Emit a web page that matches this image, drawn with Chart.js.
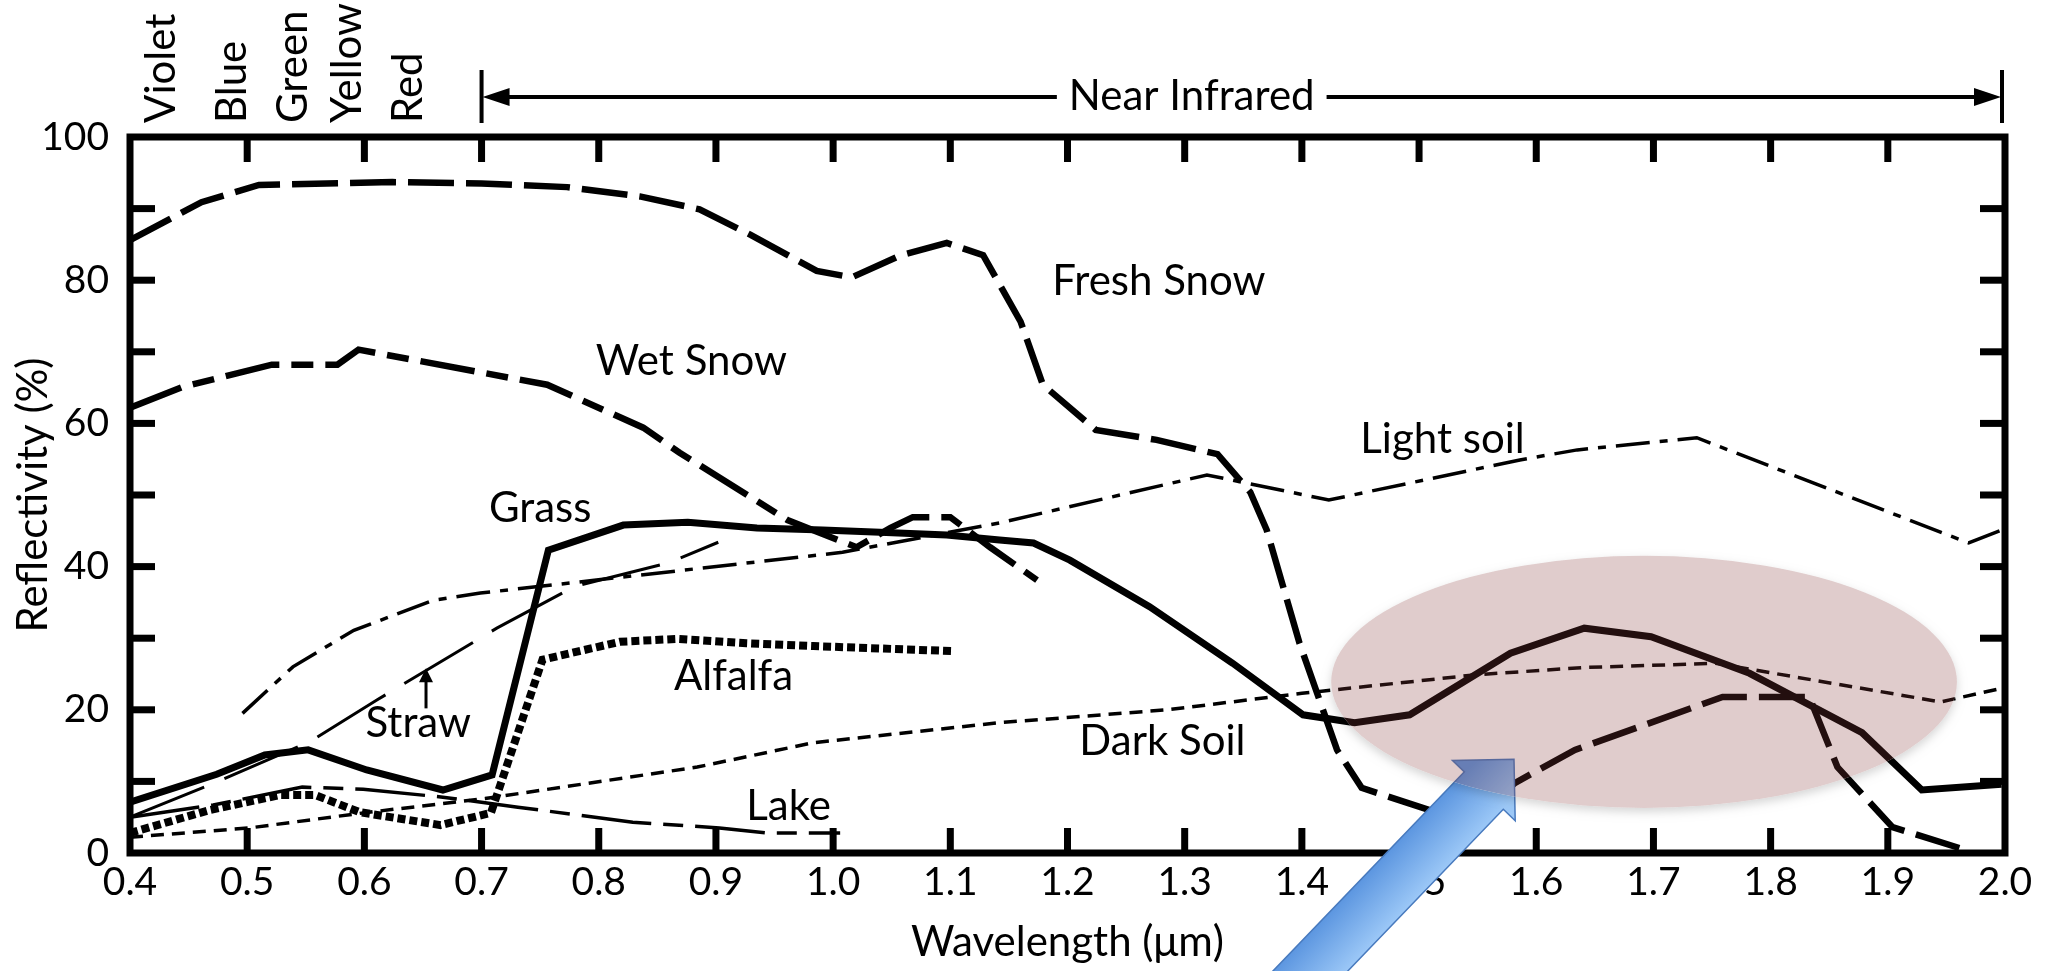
<!DOCTYPE html>
<html>
<head>
<meta charset="utf-8">
<script src="https://cdn.jsdelivr.net/npm/chart.js@4.4.0/dist/chart.umd.min.js"></script>
<style>
  html, body { margin: 0; padding: 0; background: #fff; }
  canvas { display: block; }
</style>
</head>
<body>
<canvas id="spectra" width="2049" height="971"></canvas>
<script>
// reflectivity (%) against wavelength (um)
var freshSnowX = [0.40, 0.461, 0.510, 0.624, 0.700, 0.773, 0.835, 0.886, 0.930, 0.986, 1.016, 1.058, 1.097, 1.128, 1.160, 1.179, 1.224, 1.276, 1.328, 1.356, 1.370, 1.398, 1.430, 1.451, 1.509, 1.545, 1.582, 1.633, 1.759, 1.833, 1.857, 1.904, 1.961];
var freshSnowY = [85.6, 90.9, 93.3, 93.7, 93.5, 93.0, 91.7, 89.9, 86.3, 81.3, 80.4, 83.5, 85.2, 83.5, 74.2, 65.4, 59.1, 57.7, 55.7, 50.4, 45.1, 29.3, 14.4, 9.1, 6.0, 4.5, 9.8, 14.4, 21.8, 21.8, 12.0, 3.6, 0.7];

var wetSnowX = [0.40, 0.445, 0.521, 0.577, 0.595, 0.756, 0.838, 0.869, 0.961, 0.989, 1.020, 1.049, 1.068, 1.100, 1.134, 1.174];
var wetSnowY = [62.2, 65.1, 68.2, 68.2, 70.3, 65.4, 59.4, 55.9, 46.5, 44.7, 42.7, 45.4, 46.9, 46.9, 42.7, 38.1];

var grassX = [0.40, 0.474, 0.515, 0.552, 0.602, 0.667, 0.709, 0.757, 0.821, 0.876, 0.935, 0.991, 1.040, 1.097, 1.142, 1.171, 1.202, 1.270, 1.341, 1.401, 1.445, 1.492, 1.578, 1.641, 1.698, 1.782, 1.878, 1.929, 1.997];
var grassY = [7.1, 11.0, 13.7, 14.4, 11.6, 8.8, 10.9, 42.3, 45.8, 46.2, 45.4, 45.1, 44.8, 44.4, 43.7, 43.3, 40.9, 34.4, 26.5, 19.3, 18.2, 19.3, 27.9, 31.4, 30.2, 25.1, 16.8, 8.8, 9.6];

var alfalfaX = [0.40, 0.468, 0.528, 0.558, 0.596, 0.665, 0.708, 0.752, 0.818, 0.867, 0.926, 0.983, 1.102];
var alfalfaY = [2.8, 6.0, 8.1, 8.1, 5.7, 3.9, 5.6, 27.0, 29.5, 29.9, 29.3, 28.9, 28.2];

var strawX = [0.40, 0.468, 0.554, 0.611, 0.713, 0.779, 0.861, 0.902];
var strawY = [5.0, 9.5, 15.6, 21.4, 31.4, 37.2, 40.6, 43.4];

var lakeX = [0.40, 0.471, 0.547, 0.599, 0.667, 0.731, 0.829, 0.903, 0.943, 1.006];
var lakeY = [5.0, 6.7, 9.2, 8.9, 7.8, 6.4, 4.3, 3.5, 2.8, 2.8];

var darkSoilX = [0.40, 0.502, 0.599, 0.703, 0.884, 0.983, 1.142, 1.285, 1.400, 1.549, 1.640, 1.753, 1.945, 1.997];
var darkSoilY = [2.2, 3.5, 5.6, 7.6, 12.0, 15.4, 18.2, 20.0, 22.3, 24.9, 25.9, 26.5, 21.1, 23.0];

var lightSoilX = [0.496, 0.539, 0.591, 0.659, 0.699, 0.818, 1.008, 1.142, 1.319, 1.423, 1.586, 1.635, 1.737, 1.969, 1.997];
var lightSoilY = [19.5, 26.0, 31.1, 35.3, 36.3, 38.5, 42.0, 46.1, 52.8, 49.3, 54.9, 56.3, 58.0, 43.3, 45.1];

// colour bands written above the plot (wavelength of each word)
var bandNames = ['Violet', 'Blue', 'Green', 'Yellow', 'Red'];
var bandX = [0.426, 0.486, 0.538, 0.584, 0.636];

// curve names, anchored in data units (centre, baseline)
var curveNames = ['Fresh Snow', 'Wet Snow', 'Grass', 'Alfalfa', 'Lake', 'Straw', 'Dark Soil', 'Light soil'];
var nameX = [1.278, 0.879, 0.750, 0.915, 0.962, 0.646, 1.281, 1.520];
var nameY = [77.9, 66.8, 46.2, 22.8, 4.6, 16.2, 13.7, 55.9];

var FONT = 'Lato, "DejaVu Sans", sans-serif';

function pts(xs, ys) {
  return xs.map(function (x, i) { return { x: x, y: ys[i] }; });
}

function curve(name, xs, ys, width, dash) {
  return {
    label: name,
    data: pts(xs, ys),
    showLine: true,
    borderColor: '#000',
    borderWidth: width,
    borderDash: dash,
    borderCapStyle: 'butt',
    borderJoinStyle: 'miter',
    pointRadius: 0,
    pointHoverRadius: 0,
    fill: false,
    tension: 0
  };
}

// frame, inside ticks, blue arrow, pink ellipse and the text notes
var overlay = {
  id: 'overlay',
  afterDatasetsDraw: function (chart) {
    var ctx = chart.ctx, xs = chart.scales.x, ys = chart.scales.y, a = chart.chartArea;
    ctx.save();

    // thick frame with ticks pointing in on all four sides
    ctx.fillStyle = '#000';
    ctx.strokeStyle = '#000';
    ctx.lineWidth = 7;
    ctx.lineJoin = 'miter';
    ctx.strokeRect(a.left, a.top, a.right - a.left, a.bottom - a.top);
    var tl = 25, tw = 7;
    xs.ticks.forEach(function (t) {
      var px = xs.getPixelForValue(t.value);
      if (px <= a.left + 2 || px >= a.right - 2) return;
      ctx.fillRect(px - tw / 2, a.bottom - tl, tw, tl);
      ctx.fillRect(px - tw / 2, a.top, tw, tl);
    });
    ys.ticks.forEach(function (t) {
      var py = ys.getPixelForValue(t.value);
      if (py <= a.top + 2 || py >= a.bottom - 2) return;
      ctx.fillRect(a.left, py - tw / 2, tl, tw);
      ctx.fillRect(a.right - tl, py - tw / 2, tl, tw);
    });

    // colour names, rotated
    ctx.font = '42px ' + FONT;
    ctx.textAlign = 'left';
    ctx.textBaseline = 'alphabetic';
    bandNames.forEach(function (n, i) {
      ctx.save();
      ctx.translate(xs.getPixelForValue(bandX[i]) + 15, a.top - 14);
      ctx.rotate(-Math.PI / 2);
      ctx.fillText(n, 0, 0);
      ctx.restore();
    });

    // "Near Infrared" span from 0.7 to 2.0
    var xL = xs.getPixelForValue(0.7), xR = xs.getPixelForValue(2.0) - 3;
    var yA = a.top - 40;
    var tx = xs.getPixelForValue(1.306);
    var tw2 = ctx.measureText('Near Infrared').width;
    ctx.textAlign = 'center';
    ctx.fillText('Near Infrared', tx, a.top - 27);
    ctx.lineWidth = 4;
    ctx.beginPath();
    ctx.moveTo(xL, a.top - 67); ctx.lineTo(xL, a.top - 14);
    ctx.moveTo(xR, a.top - 67); ctx.lineTo(xR, a.top - 14);
    ctx.stroke();
    ctx.beginPath();
    ctx.moveTo(xL + 20, yA); ctx.lineTo(tx - tw2 / 2 - 12, yA);
    ctx.moveTo(tx + tw2 / 2 + 12, yA); ctx.lineTo(xR - 20, yA);
    ctx.stroke();
    ctx.beginPath();
    ctx.moveTo(xL + 1, yA); ctx.lineTo(xL + 28, yA - 9); ctx.lineTo(xL + 28, yA + 9); ctx.closePath();
    ctx.moveTo(xR - 1, yA); ctx.lineTo(xR - 28, yA - 9); ctx.lineTo(xR - 28, yA + 9); ctx.closePath();
    ctx.fill();

    // curve names
    ctx.textAlign = 'center';
    curveNames.forEach(function (n, i) {
      ctx.fillText(n, xs.getPixelForValue(nameX[i]), ys.getPixelForValue(nameY[i]));
    });

    // little arrow from "Straw" up to its curve
    var sx = xs.getPixelForValue(0.6526);
    var sTip = ys.getPixelForValue(25.8), sTail = ys.getPixelForValue(20.2);
    ctx.lineWidth = 3;
    ctx.beginPath(); ctx.moveTo(sx, sTail); ctx.lineTo(sx, sTip + 12); ctx.stroke();
    ctx.beginPath(); ctx.moveTo(sx, sTip); ctx.lineTo(sx - 7, sTip + 14); ctx.lineTo(sx + 7, sTip + 14); ctx.closePath(); ctx.fill();

    // big blue arrow pointing at the 1.5 um dip
    var T = { x: xs.getPixelForValue(1.581), y: ys.getPixelForValue(13.1) };
    var len = Math.sqrt(174 * 174 + 181 * 181);
    var u = { x: 174 / len, y: -181 / len }, n = { x: -u.y, y: u.x };
    var headLen = 43.5, headHalf = 43.5, shaftHalf = 27, shaftLen = 420;
    var M = { x: T.x - headLen * u.x, y: T.y - headLen * u.y };
    function P(s, w) { return [M.x + s * u.x + w * n.x, M.y + s * u.y + w * n.y]; }
    var poly = [P(headLen, 0), P(0, headHalf), P(0, shaftHalf), P(-shaftLen, shaftHalf),
                P(-shaftLen, -shaftHalf), P(0, -shaftHalf), P(0, -headHalf)];
    var g0 = P(0, -shaftHalf), g1 = P(0, shaftHalf);
    var grad = ctx.createLinearGradient(g0[0], g0[1], g1[0], g1[1]);
    grad.addColorStop(0, 'rgb(92,150,224)');
    grad.addColorStop(1, 'rgb(156,200,247)');
    ctx.beginPath();
    poly.forEach(function (p, i) { if (i === 0) ctx.moveTo(p[0], p[1]); else ctx.lineTo(p[0], p[1]); });
    ctx.closePath();
    ctx.fillStyle = grad;
    ctx.fill();
    ctx.lineWidth = 1.5;
    ctx.strokeStyle = 'rgb(72,122,190)';
    ctx.stroke();

    // translucent pink ellipse over the 1.4-1.95 um region
    var cx = xs.getPixelForValue(1.692), cy = ys.getPixelForValue(23.9);
    var rx = xs.getPixelForValue(1.692 + 0.267) - cx;
    var ry = cy - ys.getPixelForValue(23.9 + 17.6);
    // soft shadow only outside the ellipse, so the fill stays clean
    ctx.save();
    ctx.beginPath();
    ctx.rect(0, 0, chart.width, chart.height);
    ctx.ellipse(cx, cy, rx, ry, 0, 0, Math.PI * 2);
    ctx.clip('evenodd');
    ctx.shadowColor = 'rgba(0,0,0,0.16)';
    ctx.shadowBlur = 10;
    ctx.shadowOffsetY = 4;
    ctx.fillStyle = '#fff';
    ctx.beginPath();
    ctx.ellipse(cx, cy, rx, ry, 0, 0, Math.PI * 2);
    ctx.fill();
    ctx.restore();
    ctx.fillStyle = 'rgba(135,58,58,0.26)';
    ctx.beginPath();
    ctx.ellipse(cx, cy, rx, ry, 0, 0, Math.PI * 2);
    ctx.fill();

    ctx.restore();
  }
};

var chart = new Chart(document.getElementById('spectra').getContext('2d'), {
  type: 'scatter',
  data: {
    datasets: [
      curve('Fresh Snow', freshSnowX, freshSnowY, 6.5, [46, 12]),
      curve('Wet Snow', wetSnowX, wetSnowY, 6.5, [55, 12, 22, 12]),
      curve('Grass', grassX, grassY, 7, []),
      curve('Alfalfa', alfalfaX, alfalfaY, 8, [8, 4]),
      curve('Straw', strawX, strawY, 3, [80, 22]),
      curve('Lake', lakeX, lakeY, 3.5, [70, 12, 20, 12]),
      curve('Dark Soil', darkSoilX, darkSoilY, 3.5, [13, 8]),
      curve('Light soil', lightSoilX, lightSoilY, 3.5, [34, 10, 8, 10])
    ]
  },
  options: {
    responsive: false,
    animation: false,
    devicePixelRatio: 1,
    events: [],
    layout: { padding: { top: 137, right: 44, bottom: 0, left: 0 } },
    plugins: {
      legend: { display: false },
      tooltip: { enabled: false }
    },
    scales: {
      x: {
        type: 'linear',
        min: 0.4,
        max: 2.0,
        afterFit: function (s) { s.height = 118; },
        grid: { display: false, drawTicks: false },
        border: { display: false },
        ticks: {
          stepSize: 0.1,
          maxRotation: 0,
          autoSkip: false,
          padding: 6,
          color: '#000',
          font: { family: FONT, size: 39 },
          callback: function (v) { return v.toFixed(1); }
        },
        title: {
          display: true,
          text: 'Wavelength (\u03bcm)',
          color: '#000',
          font: { family: FONT, size: 42 },
          padding: { top: 0, bottom: 3 }
        }
      },
      y: {
        min: 0,
        max: 100,
        afterFit: function (s) { s.width = 130; },
        grid: { display: false, drawTicks: false },
        border: { display: false },
        ticks: {
          stepSize: 10,
          padding: 21,
          color: '#000',
          font: { family: FONT, size: 39 },
          callback: function (v) { return v % 20 === 0 ? String(v) : ''; }
        },
        title: {
          display: true,
          text: 'Reflectivity (%)',
          color: '#000',
          font: { family: FONT, size: 42 },
          padding: { top: 8, bottom: 0 }
        }
      }
    }
  },
  plugins: [overlay]
});
</script>
</body>
</html>
